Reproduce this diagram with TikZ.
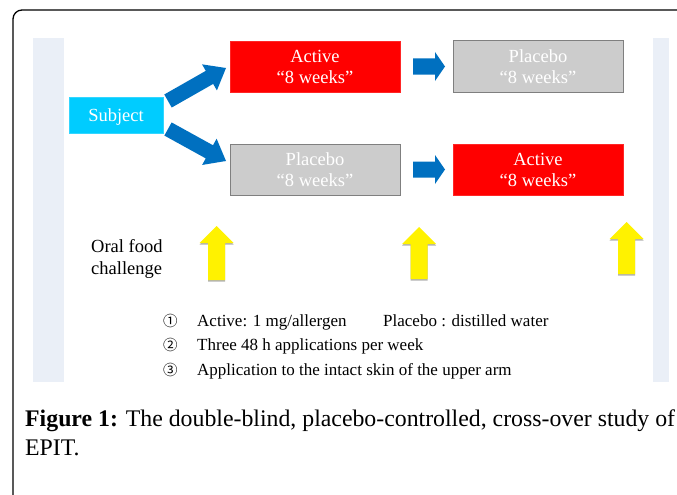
\documentclass[tikz,border=0pt]{standalone}
\usepackage{fontspec}
\setmainfont{Liberation Serif}
\newfontfamily\circfont{Noto Sans CJK JP}
\usepackage{xcolor}
\usepackage{tikz}
\usetikzlibrary{positioning, calc}
\definecolor{panelgrey}{RGB}{234,239,247}
\definecolor{subjcyan}{RGB}{0,204,255}
\definecolor{armblue}{RGB}{0,112,192}
\definecolor{boxgrey}{RGB}{204,204,204}
\definecolor{edgegrey}{RGB}{127,127,127}

% [style]{from}{to}{half shaft}{half head}{head length}
\newcommand{\blockarrow}[6][]{%
  \coordinate (ba-h) at ($(#3)!#6!(#2)$);
  \fill[#1] ($(#2)!#4!90:(#3)$) -- ($(ba-h)!#4!90:(#3)$) -- ($(ba-h)!#5!90:(#3)$)
    -- (#3) -- ($(ba-h)!#5!-90:(#3)$) -- ($(ba-h)!#4!-90:(#3)$)
    -- ($(#2)!#4!-90:(#3)$) -- cycle;}

\begin{document}
\begin{tikzpicture}[
    x=1pt, y=-1pt,
    node distance=52pt and 53pt,
    box/.style={rectangle, minimum width=170pt, minimum height=51pt,
                inner sep=0pt, outer sep=0pt, align=center, text=white,
                font=\fontsize{18.5}{21}\selectfont},
    activebox/.style={box, fill=red, draw=red!85!white},
    placebobox/.style={box, fill=boxgrey, draw=edgegrey, line width=1pt},
    notetext/.style={anchor=base west, inner sep=0pt, font=\fontsize{17}{20}\selectfont},
    circnum/.style={anchor=base west, inner sep=0pt, font=\circfont\fontsize{14.5}{17}\selectfont},
    arm/.style={fill=armblue},
    ocf/.style={fill=yellow},
    ocfshadow/.style={fill=black!30},
]

\useasboundingbox (0,0) rectangle (677,495);

% Frame and side panels
\draw[line width=1.3pt, rounded corners=9pt] (13,495) |- (677,10);
\fill[panelgrey] (33,38) rectangle (64,382);
\fill[panelgrey] (653,38) rectangle (669,382);

% Subject
\node[box, fill=subjcyan, draw=subjcyan!80!white, minimum width=94pt,
      minimum height=36pt, text depth=0pt] (subj) at (116,115) {Subject};

% Arms — period 1 and period 2
\node[activebox] (act1) at (315,66.5) {Active\\“8 weeks”};
\node[placebobox, right=of act1] (pla1) {Placebo\\“8 weeks”};
\node[placebobox, below=of act1] (pla2) {Placebo\\“8 weeks”};
\node[activebox, right=of pla2]  (act2) {Active\\“8 weeks”};

% Block arrows subject -> arms
\coordinate (s1) at ([shift={(5,-14)}]subj.east);
\coordinate (e1) at ([shift={(-4,1.5)}]act1.west);
\coordinate (s2) at ([shift={(5,14)}]subj.east);
\coordinate (e2) at ([shift={(-4,-8.5)}]pla2.west);
\blockarrow[arm]{s1}{e1}{7.5pt}{15pt}{19pt}
\blockarrow[arm]{s2}{e2}{7.5pt}{15pt}{19pt}

% Cross-over arrows
\coordinate (s3) at ([xshift=13pt]act1.east);
\coordinate (e3) at ([xshift=-8pt]pla1.west);
\coordinate (s4) at ([xshift=13pt]pla2.east);
\coordinate (e4) at ([xshift=-8pt]act2.west);
\blockarrow[arm]{s3}{e3}{8pt}{14.5pt}{10pt}
\blockarrow[arm]{s4}{e4}{8pt}{14.5pt}{10pt}

% Oral food challenge
\node[anchor=west, inner sep=0pt, align=left, font=\fontsize{18.5}{22}\selectfont]
      (ofc) at (91,258.7) {Oral food\\challenge};
\foreach \x/\yb/\yt [count=\i] in {216.5/280/226, 419/279/227, 626.5/274/222}{
  \coordinate (oc\i s) at (\x,\yb+1.5);
  \coordinate (oc\i t) at (\x,\yt+1.5);
  \blockarrow[ocfshadow]{oc\i s}{oc\i t}{8.5pt}{17pt}{17pt}
  \coordinate (oc\i b) at (\x,\yb);
  \coordinate (oc\i a) at (\x,\yt);
  \blockarrow[ocf]{oc\i b}{oc\i a}{8.5pt}{17pt}{17pt}
}

% Notes
\node[circnum]  (d1)  at (163,326) {①};
\node[notetext] (n1)  at (197,326) {Active: 1 mg/allergen};
\node[notetext] (n1b) at (383,326) {Placebo : distilled water};
\node[circnum]  (d2)  at (163,350.5) {②};
\node[notetext] (n2)  at (197,350.5) {Three 48 h applications per week};
\node[circnum]  (d3)  at (163,375) {③};
\node[notetext] (n3)  at (197,375) {Application to the intact skin of the upper arm};

% Caption
\node[anchor=base west, inner sep=0pt, font=\fontsize{23.8}{29}\selectfont]
      (cap1) at (25,426) {\textbf{Figure 1:} The double-blind, placebo-controlled, cross-over study of};
\node[anchor=base west, inner sep=0pt, font=\fontsize{23.8}{29}\selectfont]
      (cap2) at (25,455) {EPIT.};

\end{tikzpicture}
\end{document}
